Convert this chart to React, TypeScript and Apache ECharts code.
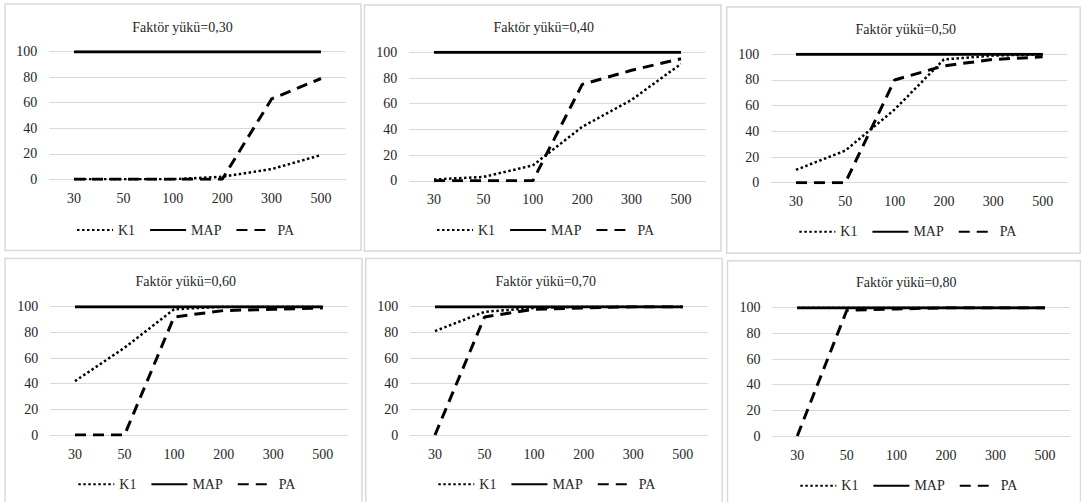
import React, { useEffect, useRef } from "react";
import * as echarts from "echarts";

// ---- data ----
const categories = ["30", "50", "100", "200", "300", "500"];
const seriesNames = ["K1", "MAP", "PA"];
const panelTitles = [
  "Faktör yükü=0,30",
  "Faktör yükü=0,40",
  "Faktör yükü=0,50",
  "Faktör yükü=0,60",
  "Faktör yükü=0,70",
  "Faktör yükü=0,80",
];

const k1_030 = [0, 0, 0, 2, 8, 19];
const map_030 = [100, 100, 100, 100, 100, 100];
const pa_030 = [0, 0, 0, 0, 63, 79];

const k1_040 = [1, 3, 12, 42, 63, 91];
const map_040 = [100, 100, 100, 100, 100, 100];
const pa_040 = [0, 0, 0, 75, 86, 95];

const k1_050 = [10, 25, 57, 96, 99, 100];
const map_050 = [100, 100, 100, 100, 100, 100];
const pa_050 = [0, 0, 80, 91, 96, 98];

const k1_060 = [42, 68, 98, 100, 100, 100];
const map_060 = [100, 100, 100, 100, 100, 100];
const pa_060 = [0, 0, 92, 97, 98, 99];

const k1_070 = [81, 96, 99, 100, 100, 100];
const map_070 = [100, 100, 100, 100, 100, 100];
const pa_070 = [0, 92, 98, 99, 100, 100];

const k1_080 = [100, 100, 100, 100, 100, 100];
const map_080 = [100, 100, 100, 100, 100, 100];
const pa_080 = [0, 98, 99, 100, 100, 100];

const panelData = [
  [k1_030, map_030, pa_030],
  [k1_040, map_040, pa_040],
  [k1_050, map_050, pa_050],
  [k1_060, map_060, pa_060],
  [k1_070, map_070, pa_070],
  [k1_080, map_080, pa_080],
];

// ---- layout (pixels) ----
const layouts = [
  { box: [5, 4, 356, 246.5], gl: 49.3, gr: 345.7, gt: 51.7, gb: 179.3, tx: 182.5, ty: 27, lx: 76, ly: 230 },
  { box: [364.5, 5, 356.5, 246], gl: 409.3, gr: 705.7, gt: 52.3, gb: 180.8, tx: 543.7, ty: 27, lx: 436, ly: 230 },
  { box: [726.7, 7, 353.5, 246.3], gl: 771.3, gr: 1067.3, gt: 54.3, gb: 182.7, tx: 905.8, ty: 29, lx: 798.3, ly: 231.7 },
  { box: [5, 258.5, 357, 250], gl: 50.2, gr: 347.5, gt: 306.7, gb: 435, tx: 185.8, ty: 281.7, lx: 77.3, ly: 484.3 },
  { box: [365.7, 258.5, 356.5, 250], gl: 410.2, gr: 707.5, gt: 306.7, gb: 435, tx: 545.8, ty: 281.7, lx: 437.3, ly: 484.3 },
  { box: [727.5, 260.7, 353, 250], gl: 772.5, gr: 1069.8, gt: 307.7, gb: 436, tx: 906.3, ty: 282.7, lx: 799.3, ly: 485.7 },
];

const FONT = "'Liberation Serif', 'Times New Roman', 'DejaVu Serif', serif";
const TEXT_COLOR = "#262626";
const GRID_COLOR = "#d9d9d9";

const lineStyles: any[] = [
  { color: "#000", width: 2.5, type: [2.5, 2.5] },
  { color: "#000", width: 3, type: "solid" },
  { color: "#000", width: 3, type: [11, 7] },
];

export default function App() {
  const ref = useRef<HTMLDivElement>(null);

  useEffect(() => {
    if (!ref.current) return;
    const chart = echarts.init(ref.current, undefined, { renderer: "svg" });

    const grid: any[] = [];
    const xAxis: any[] = [];
    const yAxis: any[] = [];
    const legend: any[] = [];
    const series: any[] = [];
    const graphic: any[] = [];

    layouts.forEach((L, i) => {
      grid.push({
        left: L.gl,
        top: L.gt,
        width: L.gr - L.gl,
        height: L.gb - L.gt,
        containLabel: false,
        outerBoundsMode: "none",
      });
      xAxis.push({
        type: "category",
        gridIndex: i,
        data: categories,
        boundaryGap: true,
        axisLine: { show: true, lineStyle: { color: GRID_COLOR, width: 1 } },
        axisTick: { show: false },
        axisLabel: { margin: 12, fontSize: 14, fontFamily: FONT, color: TEXT_COLOR, interval: 0 },
        splitLine: { show: false },
      });
      yAxis.push({
        type: "value",
        gridIndex: i,
        min: 0,
        max: 100,
        interval: 20,
        axisLine: { show: false },
        axisTick: { show: false },
        axisLabel: { margin: 12, fontSize: 14, fontFamily: FONT, color: TEXT_COLOR },
        splitLine: { show: true, lineStyle: { color: GRID_COLOR, width: 1 } },
      });
      legend.push({
        left: L.lx,
        top: L.ly - 7,
        padding: 0,
        itemWidth: 36,
        itemHeight: 14,
        itemGap: 14,
        selectedMode: false,
        data: seriesNames,
        itemStyle: { color: "transparent", borderColor: "transparent", borderWidth: 0, opacity: 0 },
        textStyle: { fontSize: 14, fontFamily: FONT, color: TEXT_COLOR },
      });
      seriesNames.forEach((name, s) => {
        series.push({
          type: "line",
          name,
          xAxisIndex: i,
          yAxisIndex: i,
          data: panelData[i][s],
          symbol: "none",
          showSymbol: false,
          lineStyle: lineStyles[s],
          itemStyle: { color: "#000" },
          z: 2 + s,
        });
      });
      graphic.push({
        type: "rect",
        shape: { x: L.box[0], y: L.box[1], width: L.box[2], height: L.box[3] },
        style: { fill: "none", stroke: GRID_COLOR, lineWidth: 1.5 },
        silent: true,
        z: 0,
      });
      graphic.push({
        type: "text",
        x: L.tx,
        y: L.ty,
        style: {
          text: panelTitles[i],
          fill: TEXT_COLOR,
          fontSize: 14,
          fontFamily: FONT,
          align: "center",
          verticalAlign: "middle",
          textAlign: "center",
          textVerticalAlign: "middle",
        },
        silent: true,
      });
    });

    chart.setOption({
      animation: false,
      backgroundColor: "#ffffff",
      grid,
      xAxis,
      yAxis,
      legend,
      series,
      graphic,
    });

    return () => chart.dispose();
  }, []);

  return (
    <div
      ref={ref}
      style={{ position: "absolute", left: 0, top: 0, width: 1081, height: 502, background: "#fff" }}
    />
  );
}
